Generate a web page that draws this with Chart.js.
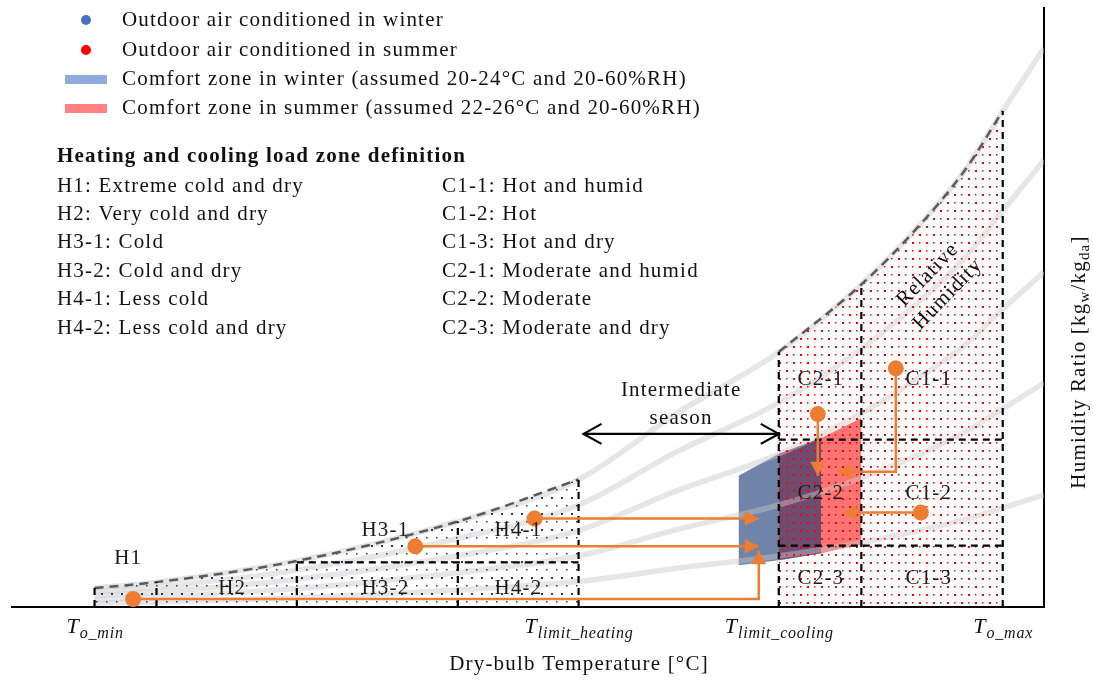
<!DOCTYPE html>
<html><head><meta charset="utf-8">
<script src="https://cdn.jsdelivr.net/npm/chart.js@4.4.0/dist/chart.umd.min.js"></script>
<style>html,body{margin:0;padding:0;background:#fff;}canvas{display:block;}</style>
</head><body>
<canvas id="c" width="1093" height="683"></canvas>
<script>
// ---------------- data ----------------
// dry-bulb temperature points [°C] used for the relative-humidity curves
const tempPts = [-11, -8, -1.2, 6.6, 12.45, 17.2, 22.15, 26.15, 28.8, 31.2, 33, 35];
// humidity ratio [g/kg] along each relative humidity curve
const rh100 = [1.23, 1.62, 3.0, 5.57, 8.3, 12.6, 16.6, 21.0, 24.6, 28.5, 32.3, 36.4];
const rh80  = [0.98, 1.30, 2.40, 4.46, 6.64, 10.1, 13.3, 16.8, 19.7, 22.8, 25.8, 29.1];
const rh60  = [0.74, 0.97, 1.80, 3.34, 4.98, 7.56, 9.96, 12.6, 14.8, 17.1, 19.4, 21.8];
const rh40  = [0.49, 0.65, 1.20, 2.23, 3.32, 5.04, 6.64, 8.4, 9.84, 11.4, 12.9, 14.6];
const rh20  = [0.25, 0.32, 0.60, 1.11, 1.66, 2.52, 3.32, 4.2, 4.92, 5.7, 6.46, 7.3];

// zone boundary temperatures
const heatBounds = [-11, -8, -1.2, 6.6, 12.45];   // To_min, H1|H2, H2|H3, H3|H4, T_limit_heating
const coolBounds = [22.15, 26.15, 33];            // T_limit_cooling, C2|C1, To_max
const heatSplit = 2.9;                            // H3-1/H3-2 and H4-1/H4-2 split
const coolSplits = [10.9, 4.0];                   // C x-1 / x-2 / x-3 splits

// comfort zones
const winterT = [20.2, 22.15, 24.2];
const winterHigh = [8.55, 9.97, 11.0];
const winterLow = [2.72, 3.04, 3.5];
const summerT = [22.15, 24.2, 26.15];
const summerHigh = [9.97, 11.0, 12.3];
const summerLow = [3.04, 3.5, 4.08];

// outdoor-air conditioning paths (first point = outdoor state, last = arrow tip)
const pathH1  = [[-9.13, 0.52], [21.18, 0.52], [21.18, 3.69]];
const pathH31 = [[4.54, 3.95], [21.18, 3.95]];
const pathH41 = [[10.32, 5.76], [21.18, 5.76]];
const pathC21 = [[24.04, 12.56], [24.04, 8.55]];
const pathC11 = [[27.82, 15.54], [27.82, 8.81], [25.01, 8.81]];
const pathC12 = [[29.03, 6.15], [25.25, 6.15]];

// intermediate season arrow
const seasonSpan = [12.69, 22.15];
const seasonW = 11.27;

// tick labels
const tickT = [-11, 12.45, 22.15, 33];
const tickSub = ['o_min', 'limit_heating', 'limit_cooling', 'o_max'];

// texts
const zoneNames = ['H1', 'H2', 'H3-1', 'H3-2', 'H4-1', 'H4-2', 'C2-1', 'C1-1', 'C2-2', 'C1-2', 'C2-3', 'C1-3'];
const legendLabels = ['Outdoor air conditioned in winter', 'Outdoor air conditioned in summer',
  'Comfort zone in winter (assumed 20-24°C and 20-60%RH)', 'Comfort zone in summer (assumed 22-26°C and 20-60%RH)'];
const defHeading = 'Heating and cooling load zone definition';
const defHeat = ['H1: Extreme cold and dry', 'H2: Very cold and dry', 'H3-1: Cold', 'H3-2: Cold and dry', 'H4-1: Less cold', 'H4-2: Less cold and dry'];
const defCool = ['C1-1: Hot and humid', 'C1-2: Hot', 'C1-3: Hot and dry', 'C2-1: Moderate and humid', 'C2-2: Moderate', 'C2-3: Moderate and dry'];

// ---------------- helpers ----------------
const F = "'Liberation Serif','Times New Roman',serif";
const ORANGE = '#ed7d31';
const satAt = t => rh100[tempPts.indexOf(t)];
const curve = (vals, i0, i1) => tempPts.slice(i0, i1 + 1).map((t, k) => ({x: t, y: vals[i0 + k]}));
const pts = arr => arr.map(p => ({x: p[0], y: p[1]}));
const pairXY = (xs, ys) => xs.map((x, i) => ({x, y: ys[i]}));

const mainCtx = document.getElementById('c').getContext('2d');
function makePattern(color, w, h, dots) {
  const c = document.createElement('canvas'); c.width = w; c.height = h;
  const g = c.getContext('2d'); g.fillStyle = color;
  dots.forEach(d => g.fillRect(d[0], d[1], d[2], d[2]));
  return mainCtx.createPattern(c, 'repeat');
}
const bluePat = makePattern('#1f3a6e', 10, 16, [[1, 1, 2], [6, 9, 1.5]]);
const redPat = makePattern('#ff0000', 14, 16, [[2, 2, 2], [9, 2, 1.5], [2, 10, 1.5], [9, 10, 2]]);

const datasets = [];
const base = {pointRadius: 0, pointHoverRadius: 0, fill: false, tension: 0};
// comfort zones (bottom layer)
datasets.push({...base, data: pairXY(summerT, summerHigh), borderWidth: 0, borderColor: 'rgba(0,0,0,0)',
  backgroundColor: 'rgba(255,0,0,0.55)', fill: {target: '+1'}, order: 100});
datasets.push({...base, data: pairXY(summerT, summerLow), borderWidth: 0, borderColor: 'rgba(0,0,0,0)', order: 99});
datasets.push({...base, data: pairXY(winterT, winterHigh), borderWidth: 0, borderColor: 'rgba(0,0,0,0)',
  backgroundColor: 'rgba(17,48,110,0.6)', fill: {target: '+1'}, order: 98});
datasets.push({...base, data: pairXY(winterT, winterLow), borderWidth: 0, borderColor: 'rgba(0,0,0,0)', order: 97});
// relative humidity curves
[rh100, rh80, rh60, rh40, rh20].forEach(v => datasets.push({...base, data: curve(v, 0, tempPts.length - 1),
  borderColor: 'rgba(200,200,200,0.45)', borderWidth: 5.5, cubicInterpolationMode: 'monotone', order: 90}));
// heating & cooling regions (dotted fill, dashed saturation border)
datasets.push({...base, data: curve(rh100, 0, 4), fill: 'origin', backgroundColor: bluePat,
  borderColor: '#5a5a5a', borderWidth: 2.5, borderDash: [9, 6], cubicInterpolationMode: 'monotone', order: 80});
datasets.push({...base, data: curve(rh100, 6, 10), fill: 'origin', backgroundColor: redPat,
  borderColor: '#5a5a5a', borderWidth: 2.5, borderDash: [9, 6], cubicInterpolationMode: 'monotone', order: 80});
// zone boundary dashed lines
const dashLine = d => ({...base, data: d, borderColor: '#000', borderWidth: 2.2, borderDash: [7, 5], order: 70});
heatBounds.concat(coolBounds).forEach(t => datasets.push(dashLine([{x: t, y: 0}, {x: t, y: satAt(t)}])));
datasets.push(dashLine([{x: heatBounds[2], y: heatSplit}, {x: heatBounds[4], y: heatSplit}]));
coolSplits.forEach(w => datasets.push(dashLine([{x: coolBounds[0], y: w}, {x: coolBounds[2], y: w}])));
// conditioning paths
const arrowStart = datasets.length;
const paths = [pathH1, pathH31, pathH41, pathC21, pathC11, pathC12];
paths.forEach(p => datasets.push({...base, data: pts(p), borderColor: ORANGE, borderWidth: 2.5,
  pointRadius: p.map((_, i) => i === 0 ? 8 : 0), pointBackgroundColor: ORANGE, pointBorderWidth: 0, order: 10}));

// ---------------- drawing plugin ----------------
const LS = '1.2px';
function txt(ctx, s, x, y, font, align, color, baseLine, ls) {
  ctx.font = font; ctx.fillStyle = color || '#111'; ctx.textAlign = align || 'left';
  ctx.textBaseline = baseLine || 'middle'; ctx.letterSpacing = ls || '0px'; ctx.fillText(s, x, y);
  ctx.letterSpacing = '0px';
}
function width(ctx, s, font, ls) {
  ctx.font = font; ctx.letterSpacing = ls || '0px'; const w = ctx.measureText(s).width; ctx.letterSpacing = '0px'; return w;
}
function head(ctx, x, y, ang, len, hw, color) {
  ctx.save(); ctx.translate(x, y); ctx.rotate(ang); ctx.beginPath();
  ctx.moveTo(0, 0); ctx.lineTo(-len, -hw); ctx.lineTo(-len, hw); ctx.closePath();
  ctx.fillStyle = color; ctx.fill(); ctx.restore();
}
function chevron(ctx, x, y, dir) {
  ctx.beginPath(); ctx.moveTo(x - dir * 18, y - 10); ctx.lineTo(x, y); ctx.lineTo(x - dir * 18, y + 10); ctx.stroke();
}
const zoneLabelPos = [[-9.37, 3.17], [-4.33, 1.23], [3.09, 4.99], [3.09, 1.23], [9.54, 4.99], [9.54, 1.23],
  [24.19, 14.83], [29.42, 14.83], [24.19, 7.38], [29.42, 7.38], [24.19, 1.88], [29.42, 1.88]];
const FN = '21px ' + F;

const overlay = {
  id: 'overlay',
  afterDatasetsDraw(chart) {
    const ctx = chart.ctx, xs = chart.scales.x, ys = chart.scales.y;
    ctx.save();
    // arrow heads
    paths.forEach((p, k) => {
      const d = chart.getDatasetMeta(arrowStart + k).data;
      const a = d[d.length - 2], b = d[d.length - 1];
      head(ctx, b.x, b.y, Math.atan2(b.y - a.y, b.x - a.x), 14, 7.5, ORANGE);
    });
    // intermediate season
    const x1 = xs.getPixelForValue(seasonSpan[0]), x2 = xs.getPixelForValue(seasonSpan[1]), y = ys.getPixelForValue(seasonW);
    ctx.strokeStyle = '#000'; ctx.lineWidth = 2.2; ctx.lineJoin = 'miter';
    ctx.beginPath(); ctx.moveTo(x1, y); ctx.lineTo(x2, y); ctx.stroke();
    chevron(ctx, x1, y, -1); chevron(ctx, x2, y, 1);
    const cx = (x1 + x2) / 2;
    txt(ctx, 'Intermediate', cx, y - 43, FN, 'center', '#111', 'middle', LS);
    txt(ctx, 'season', cx, y - 15, FN, 'center', '#111', 'middle', LS);
    // zone labels
    zoneNames.forEach((n, i) => txt(ctx, n, xs.getPixelForValue(zoneLabelPos[i][0]), ys.getPixelForValue(zoneLabelPos[i][1]),
      FN, 'center', '#1a1a1a', 'middle', LS));
    // relative humidity label
    ctx.save();
    ctx.translate(xs.getPixelForValue(29.37), ys.getPixelForValue(21.63)); ctx.rotate(-46 * Math.PI / 180);
    txt(ctx, 'Relative', 0, 0, FN, 'center', '#111', 'middle', LS);
    txt(ctx, 'Humidity', 0, 28, FN, 'center', '#111', 'middle', LS);
    ctx.restore();
    ctx.restore();
  },
  afterDraw(chart) {
    const ctx = chart.ctx, xs = chart.scales.x, area = chart.chartArea;
    ctx.save();
    // legend
    ctx.fillStyle = '#4472c4'; ctx.beginPath(); ctx.arc(86, 20, 5, 0, 2 * Math.PI); ctx.fill();
    ctx.fillStyle = '#ff0000'; ctx.beginPath(); ctx.arc(86, 50, 5, 0, 2 * Math.PI); ctx.fill();
    ctx.fillStyle = '#8faadc'; ctx.fillRect(65, 75, 42, 9);
    ctx.fillStyle = '#ff8080'; ctx.fillRect(65, 104, 42, 9);
    legendLabels.forEach((s, i) => txt(ctx, s, 122, [20, 50, 79, 108][i], FN, 'left', '#111', 'middle', LS));
    // definitions
    txt(ctx, defHeading, 57, 157, 'bold ' + FN, 'left', '#111', 'middle', LS);
    defHeat.forEach((s, i) => txt(ctx, s, 57, 186 + i * 28.4, FN, 'left', '#111', 'middle', LS));
    defCool.forEach((s, i) => txt(ctx, s, 442, 186 + i * 28.4, FN, 'left', '#111', 'middle', LS));
    // tick labels T_sub
    tickT.forEach((t, i) => {
      const fT = 'italic 22px ' + F, fS = 'italic 16px ' + F;
      const wT = width(ctx, 'T', fT), wS = width(ctx, tickSub[i], fS, '0.8px');
      const x0 = xs.getPixelForValue(t) - (wT + wS) / 2;
      txt(ctx, 'T', x0, area.bottom + 26, fT, 'left', '#111', 'alphabetic');
      txt(ctx, tickSub[i], x0 + wT + 1, area.bottom + 31, fS, 'left', '#111', 'alphabetic', '0.8px');
    });
    // x title
    txt(ctx, 'Dry-bulb Temperature [°C]', 579, area.bottom + 57, FN, 'center', '#111', 'middle', LS);
    // y title with subscripts
    ctx.save();
    ctx.translate(area.right + 34, 362); ctx.rotate(-Math.PI / 2);
    const parts = [['Humidity Ratio [kg', 0], ['w', 1], ['/kg', 0], ['da', 1], [']', 0]];
    const fontOf = p => (p[1] ? '15px ' : '21px ') + F;
    let tot = 0;
    parts.forEach(p => { tot += width(ctx, p[0], fontOf(p), LS); });
    let xx = -tot / 2;
    parts.forEach(p => {
      txt(ctx, p[0], xx, p[1] ? 11 : 7, fontOf(p), 'left', '#111', 'alphabetic', LS);
      xx += width(ctx, p[0], fontOf(p), LS);
    });
    ctx.restore();
    ctx.restore();
  }
};

new Chart(document.getElementById('c'), {
  type: 'line',
  data: {datasets},
  options: {
    responsive: false, animation: false, events: [],
    layout: {padding: {left: 12, right: 49, top: 5, bottom: 76}},
    plugins: {legend: {display: false}, tooltip: {enabled: false}, filler: {propagate: false}},
    scales: {
      x: {type: 'linear', min: -15, max: 35, position: 'bottom',
        grid: {display: false, drawTicks: false}, ticks: {display: false}, border: {display: true, color: '#000', width: 2}},
      y: {type: 'linear', min: 0, max: 39, position: 'right',
        grid: {display: false, drawTicks: false}, ticks: {display: false}, border: {display: true, color: '#000', width: 2}}
    }
  },
  plugins: [overlay]
});
</script>
</body></html>
